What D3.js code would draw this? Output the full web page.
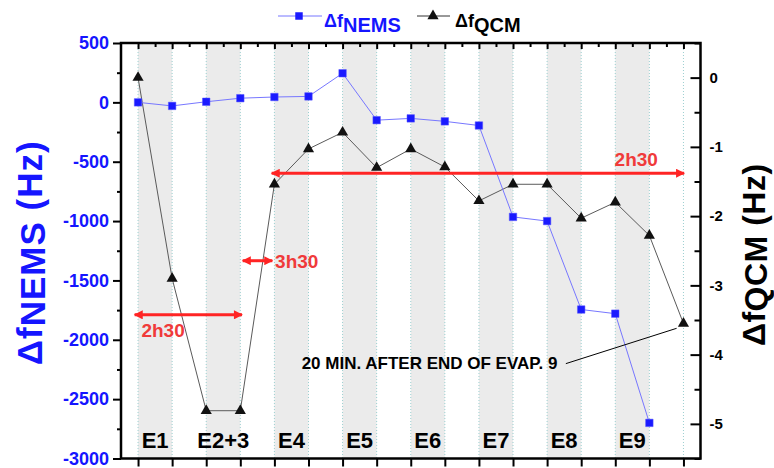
<!DOCTYPE html>
<html lang="en">
	<head>
		<meta charset="UTF-8" />
		<title>NEMS / QCM frequency shift</title>
		<script src="https://d3js.org/d3.v7.min.js"></script>
		<style>
			body { margin: 0; background: #fff; }
			text { font-family: 'Liberation Sans', Arial, sans-serif; font-weight: bold; }
		</style>
	</head>
	<body>
		<svg width="774" height="468"></svg>

		<script>
			// evaporation steps (one gray band each)
			const evapLabels = ['E1', 'E2+3', 'E4', 'E5', 'E6', 'E7', 'E8', 'E9'];
			// NEMS shift (Hz), one point per grid line
			const nemsShift = [0, -30, 5, 35, 45, 50, 245, -150, -135, -160, -195, -965, -1000, -1745, -1780, -2700];
			// QCM shift (Hz)
			const qcmShift = [0, -2.9, -4.81, -4.81, -1.54, -1.03, -0.79, -1.3, -1.03, -1.29, -1.78, -1.54, -1.54, -2.03, -1.8, -2.28, -3.55];
			const leftTicks = [500, 0, -500, -1000, -1500, -2000, -2500, -3000];
			const rightTicks = [0, -1, -2, -3, -4, -5];
			// duration arrows: x in step index, y in NEMS Hz
			const durations = [
				{ label: '2h30', x0: -0.1, x1: 3.05, y: -1790, tx: 0.1, ty: -1975 },
				{ label: '3h30', x0: 3.07, x1: 3.94, y: -1334, tx: 4.02, ty: -1395 },
				{ label: '2h30', x0: 3.92, x1: 16.02, y: -597, tx: 13.98, ty: -540 }
			];

			const svg = d3.select('svg');
			const red = '#ff2424';

			const x = d3.scaleLinear().domain([-0.5, 16.5]).range([121, 700.5]);
			const yL = d3.scaleLinear().domain([-3000, 500]).range([458.5, 43]);
			const yR = d3.scaleLinear().domain([-5.5, 0.5]).range([458.5, 43]);
			const pTop = 43, pBottom = 458.5, pLeft = 121, pRight = 700.5;

			// gray bands + dotted grid
			svg.append('g').selectAll('rect').data(evapLabels).enter().append('rect')
				.attr('x', (d, i) => x(2 * i))
				.attr('y', pTop)
				.attr('width', x(1) - x(0))
				.attr('height', pBottom - pTop)
				.style('fill', '#ebebeb');

			svg.append('g').selectAll('line').data(d3.range(17)).enter().append('line')
				.attr('x1', d => x(d)).attr('x2', d => x(d))
				.attr('y1', pTop).attr('y2', pBottom)
				.style('stroke', '#9ccfd0').style('stroke-width', 1).style('stroke-dasharray', '1,2');

			// step labels
			svg.append('g').selectAll('text').data(evapLabels).enter().append('text')
				.attr('x', (d, i) => x(2 * i + 0.5))
				.attr('y', 448)
				.attr('text-anchor', 'middle')
				.style('font-size', '22px')
				.style('fill', '#000')
				.text(d => d);

			// axes
			const noLabel = () => '';
			const gl = svg.append('g').attr('transform', `translate(${pLeft},0)`);
			gl.call(d3.axisLeft(yL).tickValues(leftTicks).tickSize(8).tickSizeOuter(0).tickPadding(4).tickFormat(d => String(d)));
			gl.call(g => g.selectAll('text').style('fill', '#1515ff').style('font-size', '18px'));
			svg.append('g').attr('transform', `translate(${pLeft},0)`)
				.call(d3.axisLeft(yL).tickValues(d3.range(-2750, 500, 500)).tickSize(4).tickSizeOuter(0).tickFormat(noLabel));

			const gr = svg.append('g').attr('transform', `translate(${pRight},0)`);
			gr.call(d3.axisRight(yR).tickValues(rightTicks).tickSizeInner(-10).tickSizeOuter(0).tickPadding(9).tickFormat(d => String(d)));
			gr.call(g => g.selectAll('text').style('fill', '#000').style('font-size', '15px'));
			svg.append('g').attr('transform', `translate(${pRight},0)`)
				.call(d3.axisRight(yR).tickValues(d3.range(-5.5, 0.6, 1)).tickSizeInner(-6).tickSizeOuter(0).tickFormat(noLabel));

			svg.append('g').attr('transform', `translate(0,${pBottom})`)
				.call(d3.axisBottom(x).tickValues(d3.range(17)).tickSize(8).tickSizeOuter(0).tickFormat(noLabel));
			svg.append('g').attr('transform', `translate(0,${pTop})`)
				.call(d3.axisTop(x).tickValues(d3.range(17)).tickSize(-6).tickSizeOuter(0).tickFormat(noLabel));
			svg.append('g').attr('transform', `translate(0,${pTop})`)
				.call(d3.axisTop(x).tickValues(d3.range(0.5, 16, 1)).tickSize(-4).tickSizeOuter(0).tickFormat(noLabel));

			svg.selectAll('.domain').remove();
			svg.selectAll('.tick line').style('stroke', '#000').style('stroke-width', 2);

			svg.append('rect')
				.attr('x', pLeft).attr('y', pTop)
				.attr('width', pRight - pLeft).attr('height', pBottom - pTop)
				.style('fill', 'none').style('stroke', '#000').style('stroke-width', 2.5);

			// axis titles
			const tl = svg.append('text')
				.attr('transform', `translate(42,${(pTop + pBottom) / 2 + 2}) rotate(-90)`)
				.attr('text-anchor', 'middle')
				.style('font-size', '35px').style('letter-spacing', '1px')
				.style('fill', '#1515ff');
			tl.append('tspan').text('Δf');
			tl.append('tspan').attr('dy', 3).text('NEMS');
			tl.append('tspan').attr('dy', -3).text(' (Hz)');

			const tr = svg.append('text')
				.attr('transform', `translate(765,${(pTop + pBottom) / 2 + 4}) rotate(-90)`)
				.attr('text-anchor', 'middle')
				.style('font-size', '32px').style('letter-spacing', '0.5px')
				.style('fill', '#000');
			tr.append('tspan').text('Δf');
			tr.append('tspan').attr('dy', 2).text('QCM');
			tr.append('tspan').attr('dy', -2).text(' (Hz)');

			// series
			svg.append('path').datum(qcmShift)
				.attr('d', d3.line().x((d, i) => x(i)).y(d => yR(d)))
				.style('fill', 'none').style('stroke', '#5a5a5a').style('stroke-width', 1);
			svg.append('path').datum(nemsShift)
				.attr('d', d3.line().x((d, i) => x(i)).y(d => yL(d)))
				.style('fill', 'none').style('stroke', '#7777ff').style('stroke-width', 1);

			const tri = d3.symbol().type(d3.symbolTriangle).size(54);
			const sq = d3.symbol().type(d3.symbolSquare).size(56);

			svg.append('g').selectAll('path').data(qcmShift).enter().append('path')
				.attr('d', tri)
				.attr('transform', (d, i) => `translate(${x(i)},${yR(d)})`)
				.style('fill', '#111');
			svg.append('g').selectAll('path').data(nemsShift).enter().append('path')
				.attr('d', sq)
				.attr('transform', (d, i) => `translate(${x(i)},${yL(d)})`)
				.style('fill', '#1a1aff').style('stroke', '#5555ff').style('stroke-width', 0.5);

			// duration arrows
			const defs = svg.append('defs');
			defs.append('marker')
				.attr('id', 'head')
				.attr('viewBox', '0 0 10 10')
				.attr('refX', 9).attr('refY', 5)
				.attr('markerWidth', 3.3).attr('markerHeight', 3)
				.attr('markerUnits', 'strokeWidth')
				.attr('orient', 'auto-start-reverse')
				.append('path').attr('d', 'M0,0L10,5L0,10Z').style('fill', red);

			const dur = svg.append('g');
			dur.selectAll('line').data(durations).enter().append('line')
				.attr('x1', d => x(d.x0)).attr('x2', d => x(d.x1))
				.attr('y1', d => yL(d.y)).attr('y2', d => yL(d.y))
				.style('stroke', red).style('stroke-width', 3)
				.attr('marker-start', 'url(#head)').attr('marker-end', 'url(#head)');
			dur.selectAll('text').data(durations).enter().append('text')
				.attr('x', d => x(d.tx)).attr('y', d => yL(d.ty))
				.style('font-size', '19px').style('fill', '#f03a3a')
				.text(d => d.label);

			// note for the last QCM point
			svg.append('line')
				.attr('x1', x(12.55)).attr('y1', yR(-4.13))
				.attr('x2', x(15.8)).attr('y2', yR(-3.62))
				.style('stroke', '#000').style('stroke-width', 1);
			svg.append('text')
				.attr('x', x(4.8)).attr('y', 368.5)
				.style('font-size', '17px').style('fill', '#000')
				.text('20 MIN. AFTER END OF EVAP. 9');

			// legend
			const lg = svg.append('g');
			lg.append('line').attr('x1', 278).attr('x2', 322).attr('y1', 16).attr('y2', 16)
				.style('stroke', '#7777ff').style('stroke-width', 1);
			lg.append('path').attr('d', sq).attr('transform', 'translate(299,16)').style('fill', '#1a1aff');
			const l1 = lg.append('text').attr('x', 324).attr('y', 27).style('fill', '#1515ff');
			l1.append('tspan').style('font-size', '18px').text('Δf');
			l1.append('tspan').attr('dy', 5).style('font-size', '20px').text('NEMS');

			lg.append('line').attr('x1', 417).attr('x2', 450).attr('y1', 16).attr('y2', 16)
				.style('stroke', '#333').style('stroke-width', 1);
			lg.append('path').attr('d', tri).attr('transform', 'translate(433,16)').style('fill', '#111');
			const l2 = lg.append('text').attr('x', 455).attr('y', 27).style('fill', '#000');
			l2.append('tspan').style('font-size', '18px').text('Δf');
			l2.append('tspan').attr('dy', 5).style('font-size', '20px').text('QCM');
		</script>
	</body>
</html>
